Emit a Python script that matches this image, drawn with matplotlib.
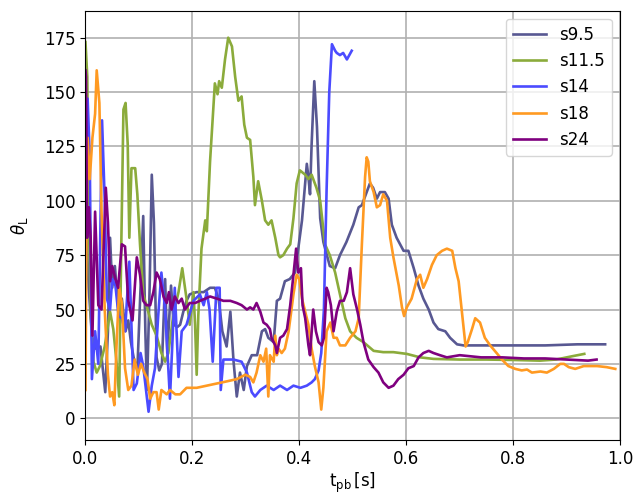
import numpy as np
import matplotlib
matplotlib.use("Agg")
import matplotlib.pyplot as plt

labels = ["s9.5", "s11.5", "s14", "s18", "s24"]
colors = ["#585892", "#8bab3b", "#4b4bff", "#ff9a22", "#7f007f"]

s9_5 = [(0.000,95),(0.006,60),(0.012,38),(0.018,32),(0.028,33),(0.037,12),(0.042,40),(0.046,83),(0.050,60),(0.055,70),(0.062,48),
        (0.068,55),(0.075,40),(0.080,45),(0.085,35),(0.090,28),(0.097,22),(0.103,60),(0.108,93),(0.112,40),(0.115,13),
        (0.120,60),(0.124,112),(0.128,90),(0.133,28),(0.138,22),(0.143,25),(0.149,64),(0.153,30),(0.160,61),(0.165,43),
        (0.172,42),(0.177,43),(0.183,49),(0.189,54),(0.195,57),(0.208,58),(0.221,58),(0.233,60),(0.242,60),(0.249,55),
        (0.256,40),(0.264,33),(0.271,49),(0.277,26),(0.283,10),(0.289,21),(0.296,13),(0.302,24),(0.311,29),(0.321,29),
        (0.330,40),(0.336,41),(0.342,37),(0.352,35),(0.358,54),(0.364,55),(0.373,63),(0.382,64),(0.392,67),(0.398,78),
        (0.405,91),(0.414,117),(0.417,111),(0.420,103),(0.423,126),(0.428,155),(0.433,134),(0.439,92),(0.445,81),
        (0.457,70),(0.467,69),(0.476,75),(0.488,81),(0.501,89),(0.511,97),(0.517,98),(0.526,104),(0.532,108),(0.538,106),
        (0.545,101),(0.551,104),(0.560,104),(0.567,101),(0.573,89),(0.582,83),(0.595,77),(0.604,77),(0.614,69),
        (0.623,61),(0.632,55),(0.642,50),(0.651,44),(0.660,41),(0.673,40),(0.682,37),(0.695,34),(0.707,33.5),
        (0.74,33.5),(0.80,33.5),(0.86,33.5),(0.92,34),(0.972,34)]

s11_5 = [(0.000,173),(0.0034,157),(0.006,95),(0.0097,49),(0.015,26),(0.021,21),(0.027,24),(0.036,33),(0.046,49),
         (0.052,41),(0.058,26),(0.063,10),(0.067,80),(0.071,142),(0.075,145),(0.079,126),(0.082,83),(0.086,115),
         (0.093,115),(0.097,103),(0.102,80),(0.108,57),(0.114,52),(0.124,43),(0.133,38),(0.142,30),(0.149,26),
         (0.155,30),(0.164,47),(0.174,58),(0.181,69),(0.189,55),(0.195,43),(0.202,58),(0.205,43),(0.208,20),
         (0.211,47),(0.217,78),(0.224,91),(0.227,86),(0.233,118),(0.239,142),(0.242,154),(0.247,149),(0.250,155),
         (0.255,152),(0.261,165),(0.267,175),(0.274,171),(0.280,157),(0.286,146),(0.292,148),(0.297,135),(0.302,129),
         (0.308,128),(0.314,111),(0.317,98),(0.323,109),(0.330,100),(0.336,91),(0.342,89),(0.348,91),(0.355,83),
         (0.361,75),(0.364,74),(0.370,75),(0.377,78),(0.383,80),(0.389,92),(0.395,108),(0.401,114),(0.411,112),
         (0.417,110),(0.423,112),(0.432,106),(0.439,100),(0.448,80),(0.457,75),(0.467,67),(0.476,57),(0.486,46),
         (0.495,40),(0.507,37),(0.520,35),(0.539,31),(0.557,30.4),(0.576,30.4),(0.601,29.6),(0.626,28),(0.651,27.3),
         (0.70,27),(0.75,27),(0.80,26.8),(0.85,26.5),(0.88,27),(0.91,28.5),(0.933,29.6)]

s14 = [(0.000,90),(0.004,147),(0.008,120),(0.012,18),(0.018,40),(0.024,25),(0.031,137),(0.036,100),(0.040,55),
       (0.046,50),(0.050,64),(0.056,61),(0.062,47),(0.068,46),(0.074,40),(0.082,72),(0.090,13),(0.096,16),(0.103,30),
       (0.108,24),(0.118,3),(0.124,15),(0.130,23),(0.136,47),(0.142,67),(0.149,50),(0.158,9),(0.167,60),(0.174,19),
       (0.180,40),(0.189,43),(0.202,54),(0.214,57),(0.221,52),(0.227,58),(0.232,50),(0.238,26),(0.245,60),(0.251,60),
       (0.253,13),(0.258,27),(0.277,27),(0.292,26),(0.302,21),(0.311,12),(0.317,10),(0.327,13),(0.339,15),(0.352,13),
       (0.364,15),(0.377,13),(0.389,15),(0.402,14),(0.414,15),(0.423,16.5),(0.429,18),(0.436,22),(0.441,30),
       (0.446,50),(0.451,105),(0.456,150),(0.461,172),(0.467,169),(0.470,168),(0.476,167),(0.482,168),(0.489,165),
       (0.498,169)]

s18 = [(0.000,13),(0.002,90),(0.004,129),(0.008,110),(0.013,129),(0.018,140),(0.021,160),(0.026,145),(0.030,95),
       (0.036,50),(0.042,20),(0.046,10),(0.050,12),(0.054,6),(0.058,33),(0.063,60),(0.068,53),(0.074,23),(0.080,13),
       (0.086,15),(0.092,27),(0.098,20),(0.104,25),(0.110,21),(0.116,18),(0.121,9),(0.127,12),(0.133,12),(0.137,4),
       (0.142,13),(0.152,11),(0.158,13),(0.168,11),(0.177,11),(0.189,14),(0.208,14),(0.227,15),(0.246,16),(0.265,17),
       (0.283,18),(0.299,20),(0.308,19),(0.314,16.5),(0.320,21),(0.327,29),(0.333,26),(0.338,32),(0.342,10),
       (0.345,29),(0.352,26),(0.355,38),(0.358,29),(0.361,32),(0.367,30),(0.373,32),(0.380,40),(0.389,57),(0.395,66),
       (0.400,64),(0.405,55),(0.411,49),(0.417,43),(0.423,32),(0.429,24),(0.436,16.5),(0.441,4),(0.445,14),
       (0.451,40),(0.458,44),(0.464,37),(0.470,37),(0.476,33.5),(0.486,33.5),(0.495,37),(0.505,40),(0.511,46),
       (0.517,80),(0.523,111),(0.526,120),(0.529,118),(0.532,109),(0.539,104),(0.545,97),(0.551,98),(0.557,103),
       (0.564,100),(0.570,83),(0.576,74),(0.586,61),(0.592,51),(0.596,47),(0.601,51),(0.610,55),(0.620,64),
       (0.626,66),(0.632,60),(0.639,64),(0.648,70.5),(0.657,75),(0.667,77),(0.676,78),(0.686,77),(0.692,69),
       (0.698,63),(0.704,49),(0.711,33),(0.715,35),(0.723,41),(0.729,46),(0.738,44),(0.747,37),(0.757,33.5),
       (0.769,30),(0.779,27),(0.791,24),(0.804,22.7),(0.816,22),(0.826,22.4),(0.835,21),(0.851,21.5),(0.863,21),
       (0.876,22.7),(0.888,25),(0.895,25),(0.904,23.5),(0.916,22.7),(0.932,24),(0.944,24),(0.957,24),(0.975,23.5),
       (0.991,22.7)]

s24 = [(0.000,160),(0.001,157),(0.003,83),(0.0065,97),(0.0097,83),(0.013,38),(0.018,95),(0.024,52),(0.030,50),
       (0.038,106),(0.042,90),(0.046,63),(0.050,70),(0.055,65),(0.061,60),(0.068,80),(0.074,79),(0.080,54),
       (0.088,45),(0.096,74),(0.102,66),(0.108,54),(0.114,52),(0.121,52),(0.127,58),(0.133,67),(0.139,64),
       (0.146,56),(0.152,53),(0.156,58),(0.161,50),(0.167,56),(0.174,53),(0.180,55),(0.186,50),(0.195,53),
       (0.205,53),(0.214,54),(0.224,55),(0.233,56),(0.246,55),(0.258,54),(0.271,54),(0.283,53),(0.292,52),
       (0.302,50),(0.308,51),(0.314,50),(0.320,53),(0.327,49),(0.333,44),(0.339,43),(0.345,41),(0.348,37),
       (0.355,33.5),(0.358,30),(0.364,37),(0.370,38),(0.377,41),(0.383,52),(0.389,66),(0.394,78),(0.398,67),
       (0.403,69),(0.406,52),(0.411,46),(0.417,33.5),(0.420,29),(0.426,50),(0.431,40),(0.436,35),(0.442,33.5),
       (0.446,37),(0.451,60),(0.454,58),(0.459,52),(0.464,40),(0.470,49),(0.476,54),(0.483,54),(0.489,58),
       (0.495,69),(0.501,57),(0.508,50),(0.514,43),(0.520,35),(0.529,27),(0.539,23.5),(0.548,21),(0.557,16.5),
       (0.567,14),(0.576,15),(0.585,18),(0.595,20),(0.604,23),(0.614,24),(0.623,28),(0.632,30),(0.642,31),
       (0.651,30),(0.663,29),(0.676,28),(0.70,29),(0.74,28),(0.78,28),(0.82,27.5),(0.86,27.5),(0.90,27),
       (0.94,26.5),(0.956,27)]

series = [s9_5, s11_5, s14, s18, s24]

plt.rcParams['font.size'] = 12
fig = plt.figure(figsize=(6.36, 4.94), dpi=100)
ax = fig.add_axes([0.1344, 0.1093, 0.9750 - 0.1344, 0.9787 - 0.1093])

for data, lab, col in zip(series, labels, colors):
    arr = np.array(data)
    ax.plot(arr[:, 0], arr[:, 1], color=col, lw=1.9, label=lab)

ax.set_xlim(0, 1.0)
ax.set_ylim(-10, 187.5)
ax.set_xticks([0.0, 0.2, 0.4, 0.6, 0.8, 1.0])
ax.set_yticks([0, 25, 50, 75, 100, 125, 150, 175])
ax.grid(True, color="#b0b0b0", lw=1.2)
ax.set_axisbelow(True)
ax.set_xlabel(r"$\mathrm{t_{pb}\,[s]}$", labelpad=2)
ax.set_ylabel(r"$\theta_{\mathrm{L}}$", labelpad=10)
ax.legend(loc="upper right")

fig.savefig("out.png", dpi=100)
